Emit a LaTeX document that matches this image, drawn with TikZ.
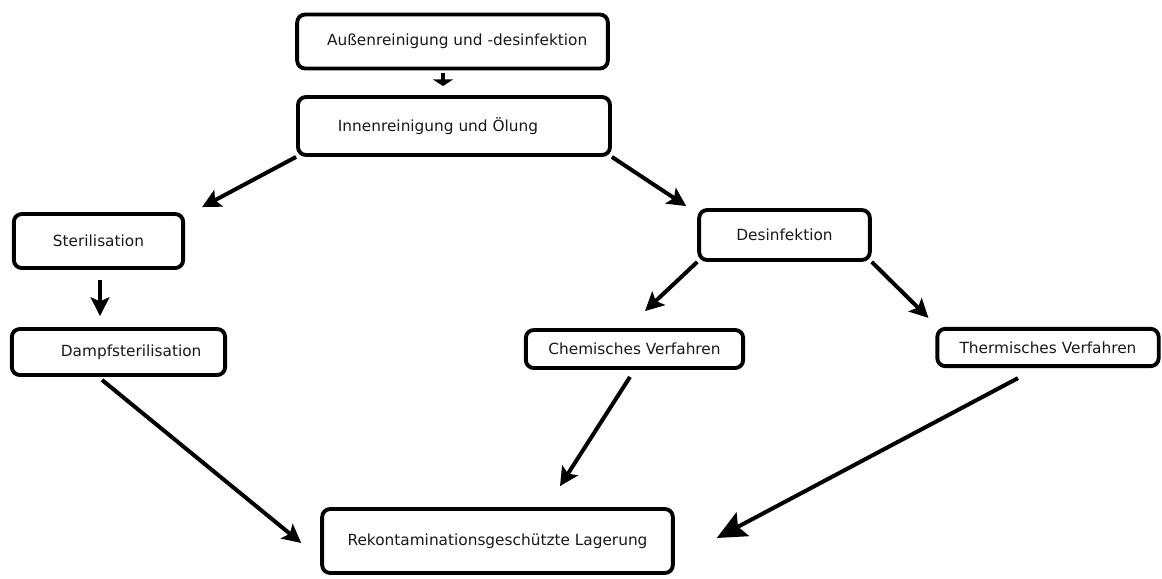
\documentclass[tikz,border=0pt]{standalone}
\usepackage{fontspec}
\setmainfont{DejaVu Sans}
\usetikzlibrary{arrows.meta,calc}

\begin{document}
\begin{tikzpicture}[x=0.75pt, y=-0.75pt,
roundbox/.style={rectangle, rounded corners=6pt, draw=black, line width=2.9pt, fill=white, text=black!90, font=\fontsize{11.5}{14}\selectfont, inner sep=0pt},
arr/.style={line width=3pt, -{Stealth[length=14pt, width=14pt, inset=3pt]}},
flatarr/.style={line width=3pt, -{Triangle[length=5pt, width=15pt]}},
bigarr/.style={line width=3pt, -{Stealth[length=22pt, width=20pt, inset=4pt]}},
]
\useasboundingbox (0,0) rectangle (1162,578);
%Nodes
\node[roundbox, minimum width=233pt, minimum height=40.5pt] (Aussen) at (452.5,41.5) {\hspace*{7pt}Außenreinigung und -desinfektion};
\node[roundbox, minimum width=234pt, minimum height=43.5pt] (Innen)  at (454,126)    {Innenreinigung und Ölung\hspace*{24pt}};
\node[roundbox, minimum width=127pt, minimum height=40.5pt] (Steril) at (98.5,241)   {Sterilisation};
\node[roundbox, minimum width=160pt, minimum height=34.5pt] (Dampf)  at (118.5,352)  {\hspace*{19pt}Dampfsterilisation};
\node[roundbox, minimum width=128pt, minimum height=37.5pt] (Desinf) at (784.5,235)  {Desinfektion};
\node[roundbox, minimum width=163pt, minimum height=28.5pt] (Chem)   at (634.5,349)  {Chemisches Verfahren};
\node[roundbox, minimum width=166pt, minimum height=28pt]   (Therm)  at (1048,347.5) {Thermisches Verfahren};
\node[roundbox, minimum width=263pt, minimum height=48pt]   (Lager)  at (497.5,541)  {Rekontaminationsgeschützte Lagerung};

%Lines
\draw[flatarr] ($(Aussen.south)+(-9.5,3)$) -- ($(Innen.north)+(-11,-9)$);
\draw[arr] (Innen.south west) -- ($(Steril.north east)+(17,-5)$);
\draw[arr] (Innen.south east) -- ($(Desinf.north west)+(-11,-2)$);
\draw[arr] ($(Steril.south)+(1.5,10)$) -- ($(Dampf.north)+(-18.5,-11)$);
\draw[arr] (Desinf.south west) -- ($(Chem.north)+(10.5,-17)$);
\draw[arr] (Desinf.south east) -- ($(Therm.north west)+(-7,-9)$);
\draw[arr] ($(Dampf.south)+(-16.5,3)$) -- ($(Lager.west)+(-19,2)$);
\draw[arr] ($(Chem.south)+(-4.5,7)$) -- ($(Lager.north)+(62.5,-21)$);
\draw[bigarr] ($(Therm.south)+(-30,10)$) -- ($(Lager.east)+(42,-3)$);
\end{tikzpicture}
\end{document}
